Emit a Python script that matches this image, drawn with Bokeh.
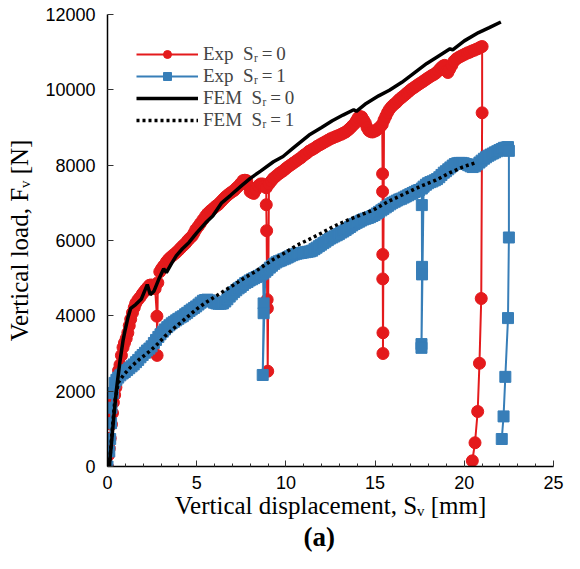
from bokeh.plotting import figure
from bokeh.models import Range1d, Legend, LegendItem, Title, SingleIntervalTicker
from bokeh.embed import file_html
from bokeh.resources import INLINE

# ---------------- data ----------------
# Experimental, Sr = 0 (red circles): (displacement mm, load N)
exp0 = [
    (0.0, 0), (0.05, 300), (0.1, 480), (0.15, 750), (0.22, 1120), (0.28, 1420),
    (0.33, 1700), (0.4, 1900), (0.47, 2100), (0.55, 2350), (0.62, 2550), (0.7, 2700),
    (0.78, 2950), (0.87, 3160), (0.95, 3280), (1.05, 3400), (1.14, 3550), (1.22, 3740),
    (1.3, 3910), (1.4, 4080), (1.5, 4220), (1.58, 4330), (1.7, 4420), (1.82, 4490),
    (1.95, 4580), (2.05, 4640), (2.15, 4700), (2.25, 4750), (2.35, 4810), (2.45, 4820),
    (2.55, 4780), (2.67, 4720), (2.77, 3990), (2.78, 2950), (2.82, 4880), (2.93, 5170),
    (3.03, 5250), (3.15, 5330), (3.3, 5430), (3.42, 5500), (3.55, 5560), (3.7, 5620),
    (3.85, 5680), (4.0, 5750), (4.12, 5810), (4.25, 5870), (4.38, 5930), (4.5, 6000),
    (4.62, 6060), (4.75, 6120), (4.85, 6200), (4.95, 6290), (5.08, 6370), (5.2, 6450),
    (5.35, 6550), (5.5, 6650), (5.62, 6720), (5.75, 6780), (5.88, 6830), (6.0, 6880),
    (6.1, 6920), (6.2, 6950), (6.3, 7000), (6.4, 7050), (6.5, 7100), (6.6, 7150),
    (6.72, 7200), (6.85, 7250), (6.97, 7290), (7.1, 7330), (7.22, 7390), (7.35, 7450),
    (7.48, 7520), (7.6, 7590), (7.7, 7600), (7.8, 7590), (7.9, 7450), (8.0, 7300),
    (8.1, 7270), (8.2, 7250), (8.32, 7350), (8.45, 7450), (8.58, 7500), (8.7, 7500),
    (8.8, 7450), (8.9, 7400), (8.9, 6950), (8.92, 6260), (8.95, 4430), (8.96, 4200),
    (8.98, 2530), (9.05, 7500), (9.18, 7580), (9.3, 7650), (9.45, 7710), (9.6, 7770),
    (9.72, 7810), (9.85, 7850), (9.97, 7900), (10.1, 7950), (10.25, 8000), (10.4, 8050),
    (10.55, 8100), (10.7, 8150), (10.85, 8200), (11.0, 8260), (11.15, 8310), (11.3, 8370),
    (11.45, 8410), (11.6, 8450), (11.75, 8500), (11.9, 8540), (12.05, 8580), (12.2, 8620),
    (12.35, 8660), (12.5, 8700), (12.65, 8730), (12.8, 8760), (12.95, 8790), (13.1, 8820),
    (13.22, 8850), (13.35, 8880), (13.48, 8930), (13.6, 8980), (13.72, 9040), (13.85, 9100),
    (13.95, 9180), (14.05, 9260), (14.15, 9290), (14.25, 9280), (14.35, 9200), (14.45, 9120),
    (14.55, 9000), (14.65, 8920), (14.75, 8890), (14.85, 8880), (14.95, 8900), (15.05, 8920),
    (15.15, 8960), (15.25, 9000), (15.33, 9040), (15.4, 9080), (15.42, 7770), (15.42, 7300),
    (15.43, 5630), (15.43, 4980), (15.44, 3550), (15.44, 3000), (15.5, 9200), (15.6, 9300),
    (15.7, 9400), (15.8, 9480), (15.92, 9550), (16.05, 9610), (16.18, 9660), (16.3, 9720),
    (16.42, 9770), (16.55, 9820), (16.68, 9870), (16.8, 9920), (16.92, 9970), (17.05, 10020),
    (17.18, 10060), (17.3, 10100), (17.42, 10140), (17.55, 10180), (17.68, 10220), (17.8, 10260),
    (17.92, 10300), (18.05, 10340), (18.18, 10380), (18.3, 10410), (18.42, 10450), (18.55, 10510),
    (18.68, 10580), (18.8, 10630), (18.9, 10650), (19.0, 10500), (19.08, 10460), (19.18, 10550),
    (19.3, 10650), (19.42, 10760), (19.55, 10820), (19.68, 10860), (19.8, 10890), (19.92, 10920),
    (20.05, 10950), (20.18, 10980), (20.3, 11000), (20.42, 11030), (20.55, 11050), (20.68, 11080),
    (20.8, 11100), (20.9, 11130), (21.0, 11150), (21.0, 9390), (20.95, 4460), (20.85, 2740),
    (20.75, 1460), (20.6, 630), (20.45, 150),
]

# Experimental, Sr = 1 (blue squares)
exp1 = [
    (0.0, 0), (0.1, 400), (0.15, 730), (0.2, 1150), (0.22, 1560), (0.3, 1950),
    (0.4, 2220), (0.5, 2300), (0.6, 2360), (0.72, 2420), (0.85, 2470), (0.97, 2510),
    (1.1, 2560), (1.22, 2610), (1.35, 2660), (1.47, 2710), (1.6, 2770), (1.72, 2830),
    (1.85, 2900), (1.97, 2960), (2.1, 3020), (2.22, 3080), (2.35, 3130), (2.47, 3190),
    (2.6, 3280), (2.72, 3360), (2.85, 3440), (2.97, 3510), (3.1, 3580), (3.22, 3640),
    (3.35, 3700), (3.47, 3750), (3.6, 3800), (3.72, 3840), (3.85, 3880), (3.97, 3920),
    (4.1, 3960), (4.22, 3990), (4.35, 4040), (4.47, 4080), (4.6, 4130), (4.72, 4170),
    (4.85, 4210), (4.97, 4250), (5.1, 4300), (5.22, 4350), (5.35, 4400), (5.47, 4420),
    (5.6, 4430), (5.72, 4410), (5.85, 4380), (5.97, 4350), (6.1, 4330), (6.22, 4320),
    (6.35, 4320), (6.47, 4330), (6.6, 4380), (6.72, 4440), (6.85, 4510), (6.97, 4570),
    (7.1, 4630), (7.22, 4680), (7.35, 4730), (7.47, 4770), (7.6, 4820), (7.72, 4870),
    (7.85, 4900), (7.97, 4940), (8.1, 4970), (8.22, 5000), (8.35, 5030), (8.47, 5060),
    (8.6, 5090), (8.72, 5120), (8.75, 4330), (8.75, 4070), (8.7, 2430), (8.85, 5170),
    (8.97, 5220), (9.1, 5280), (9.22, 5330), (9.35, 5380), (9.47, 5420), (9.6, 5450),
    (9.72, 5470), (9.85, 5500), (9.97, 5520), (10.1, 5550), (10.22, 5580), (10.35, 5610),
    (10.47, 5630), (10.6, 5650), (10.72, 5660), (10.85, 5670), (10.97, 5680), (11.1, 5690),
    (11.22, 5700), (11.35, 5710), (11.47, 5730), (11.6, 5770), (11.72, 5810), (11.85, 5850),
    (11.97, 5890), (12.1, 5930), (12.22, 5970), (12.35, 6010), (12.47, 6050), (12.6, 6080),
    (12.72, 6110), (12.85, 6140), (12.97, 6170), (13.1, 6210), (13.22, 6240), (13.35, 6280),
    (13.47, 6320), (13.6, 6360), (13.72, 6400), (13.85, 6440), (13.97, 6470), (14.1, 6500),
    (14.22, 6530), (14.35, 6560), (14.47, 6580), (14.6, 6600), (14.72, 6620), (14.85, 6650),
    (14.97, 6680), (15.1, 6720), (15.22, 6760), (15.35, 6800), (15.47, 6840), (15.6, 6880),
    (15.72, 6920), (15.85, 6960), (15.97, 7000), (16.1, 7030), (16.22, 7060), (16.35, 7090),
    (16.47, 7110), (16.6, 7140), (16.72, 7170), (16.85, 7200), (16.97, 7230), (17.1, 7260),
    (17.22, 7290), (17.35, 7320), (17.47, 7340), (17.62, 7380), (17.62, 6940), (17.63, 5300),
    (17.63, 5100), (17.6, 3250), (17.6, 3150), (17.72, 7430), (17.85, 7480), (17.97, 7520),
    (18.1, 7550), (18.22, 7570), (18.35, 7600), (18.47, 7630), (18.6, 7680), (18.72, 7740),
    (18.85, 7800), (18.97, 7840), (19.1, 7890), (19.22, 7940), (19.35, 7990), (19.47, 8030),
    (19.6, 8050), (19.72, 8060), (19.85, 8060), (19.97, 8050), (20.1, 8030), (20.22, 8000),
    (20.35, 7970), (20.47, 7950), (20.6, 7970), (20.72, 8020), (20.85, 8070), (20.97, 8120),
    (21.1, 8170), (21.22, 8210), (21.35, 8250), (21.47, 8280), (21.6, 8310), (21.72, 8340),
    (21.85, 8370), (21.97, 8400), (22.1, 8430), (22.22, 8460), (22.35, 8470), (22.45, 8480),
    (22.5, 8380), (22.5, 6080), (22.45, 3940), (22.3, 2380), (22.2, 1330), (22.1, 730),
]

# FEM, Sr = 0 (black solid)
fem0 = [
    (0.1, 0), (0.2, 500), (0.35, 1300), (0.5, 2030), (0.7, 2800), (0.87, 3340),
    (1.0, 3650), (1.14, 3940), (1.3, 4200), (1.58, 4300), (1.9, 4450), (2.23, 4830),
    (2.4, 4560), (2.6, 4650), (2.9, 5000), (3.15, 5250), (3.3, 5150), (3.6, 5400),
    (3.86, 5600), (4.2, 5780), (4.57, 5950), (5.0, 6200), (5.5, 6470), (5.9, 6650),
    (6.4, 7000), (6.9, 7200), (7.5, 7450), (8.0, 7650), (8.6, 7850), (9.3, 8090),
    (9.84, 8230), (10.4, 8450), (11.3, 8800), (12.0, 9000), (12.6, 9180), (13.2, 9330),
    (13.8, 9470), (13.95, 9430), (14.5, 9640), (15.2, 9840), (15.8, 9990), (16.5, 10200),
    (17.2, 10450), (17.9, 10700), (18.5, 10880), (19.2, 11090), (19.35, 11060), (20.0, 11300),
    (20.8, 11520), (21.4, 11650), (22.05, 11800),
]

# FEM, Sr = 1 (black dotted)
fem1 = [
    (0.1, 0), (0.25, 900), (0.4, 1700), (0.6, 2220), (0.9, 2430), (1.3, 2640),
    (1.8, 2850), (2.23, 3010), (2.7, 3200), (3.2, 3450), (3.6, 3620), (4.0, 3780),
    (4.5, 3980), (5.0, 4180), (5.5, 4350), (6.0, 4500), (6.5, 4650), (7.0, 4800),
    (7.66, 5000), (8.2, 5150), (8.7, 5310), (9.3, 5500), (10.0, 5690), (10.6, 5870),
    (11.3, 6030), (12.0, 6200), (12.7, 6380), (13.4, 6530), (14.1, 6660), (14.9, 6810),
    (15.8, 7050), (16.7, 7250), (17.5, 7430), (18.4, 7600), (19.2, 7800), (19.9, 7950),
    (20.6, 8060),
]

labels = ["Exp  S\u1d63\u2009=\u20090", "Exp  S\u1d63\u2009=\u20091",
          "FEM  S\u1d63\u2009=\u20090", "FEM  S\u1d63\u2009=\u20091"]
x_label = "Vertical displacement, S\u1d65 [mm]"
y_label = "Vertical load, F\u1d65 [N]"
panel_tag = "(a)"

RED = "#e41a1c"
BLUE = "#377eb8"


def xs(series):
    return [a for a, _ in series]


def ys(series):
    return [b for _, b in series]


p = figure(width=564, height=553, x_range=Range1d(0, 25), y_range=Range1d(0, 12000),
           output_backend="svg", toolbar_location=None, title=None,
           min_border_left=107, min_border_right=11, min_border_top=14, min_border_bottom=80)
p.outline_line_color = None
p.xgrid.visible = False
p.ygrid.visible = False
p.background_fill_color = "white"

r0l = p.line(xs(exp0), ys(exp0), line_color=RED, line_width=2)
r0s = p.scatter(xs(exp0), ys(exp0), marker="circle", size=12, fill_color=RED, line_color=RED)
r1l = p.line(xs(exp1), ys(exp1), line_color=BLUE, line_width=2)
r1s = p.scatter(xs(exp1), ys(exp1), marker="square", size=11, fill_color=BLUE, line_color=BLUE)
f0 = p.line(xs(fem0), ys(fem0), line_color="black", line_width=3.5)
f1 = p.line(xs(fem1), ys(fem1), line_color="black", line_width=3.5, line_dash="3 3")

p.xaxis.ticker = SingleIntervalTicker(interval=5, num_minor_ticks=5)
p.yaxis.ticker = SingleIntervalTicker(interval=2000, num_minor_ticks=0)

for ax in (p.xaxis, p.yaxis):
    ax.major_tick_in = 6
    ax.major_tick_out = 0
    ax.minor_tick_in = 3
    ax.minor_tick_out = 0
    ax.axis_line_width = 1.5
    ax.axis_line_color = "black"
    ax.major_tick_line_color = "#333333"
    ax.minor_tick_line_color = "#333333"
    ax.major_label_text_font = "Liberation Sans"
    ax.major_label_text_font_size = "18px"
    ax.major_label_text_color = "black"
    ax.axis_label_text_font = "Liberation Serif"
    ax.axis_label_text_font_size = "25px"
    ax.axis_label_text_font_style = "normal"
    ax.axis_label_text_color = "black"

p.xaxis.major_label_standoff = 9
p.yaxis.major_label_standoff = 12
p.xaxis.axis_label = x_label
p.yaxis.axis_label = y_label
p.xaxis.axis_label_standoff = 0
p.yaxis.axis_label_standoff = 9

legend = Legend(items=[
    LegendItem(label=labels[0], renderers=[r0l, r0s]),
    LegendItem(label=labels[1], renderers=[r1l, r1s]),
    LegendItem(label=labels[2], renderers=[f0]),
    LegendItem(label=labels[3], renderers=[f1]),
], location="top_left", margin=29, glyph_width=62, glyph_height=20, spacing=0,
    padding=2, label_standoff=5, label_text_font="Liberation Serif",
    label_text_font_size="19px", background_fill_alpha=0, border_line_color=None)
p.add_layout(legend)

tag = Title(text=panel_tag, align="left", offset=196, vertical_align="top",
            text_font="Liberation Serif", text_font_size="27px", text_font_style="bold",
            text_color="black", standoff=0)
p.add_layout(tag, "below")

open("out.html", "w").write(file_html(p, INLINE))
